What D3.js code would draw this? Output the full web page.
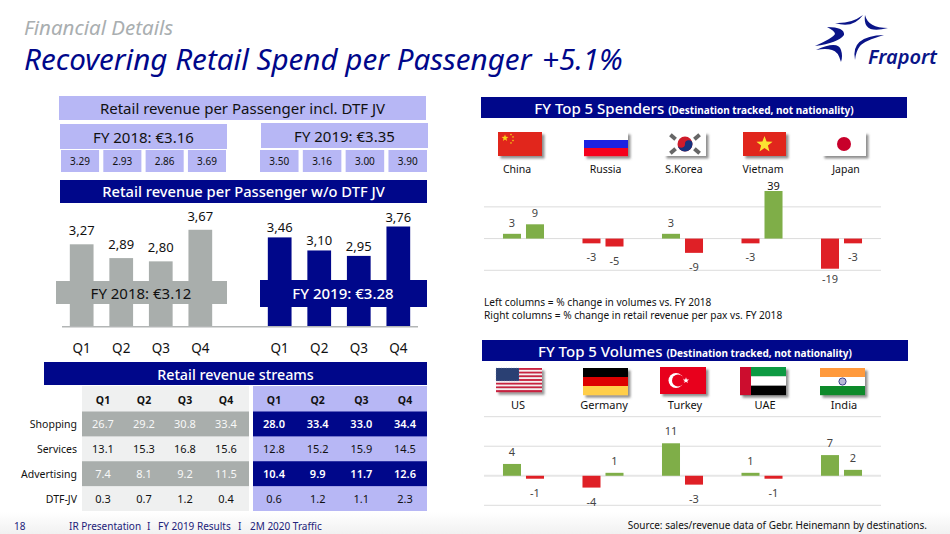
<!DOCTYPE html>
<html>
<head>
<meta charset="utf-8">
<script src="https://cdn.jsdelivr.net/npm/d3@7"></script>
<style>
  html, body { margin: 0; padding: 0; background: #fff; }
  svg { display: block; }
  text { font-family: "Noto Sans", "Open Sans", sans-serif; }
</style>
</head>
<body>
<svg id="chart"></svg>
<script>
const W = 950, H = 534;

const navy = "#00078a", lilac = "#b7b7f5", gray = "#a9aeac", pale = "#eff0f0";
const green = "#7fae48", red = "#df2026", gridCol = "#dcdcdc";

// per passenger
const quarters = ["Q1", "Q2", "Q3", "Q4"];
const incl2018 = ["3.29", "2.93", "2.86", "3.69"];
const incl2019 = ["3.50", "3.16", "3.00", "3.90"];
const wo2018 = [3.27, 2.89, 2.80, 3.67];
const wo2019 = [3.46, 3.10, 2.95, 3.76];

// revenue streams
const streams = ["Shopping", "Services", "Advertising", "DTF-JV"];
const streams2018 = [
  ["26.7", "29.2", "30.8", "33.4"],
  ["13.1", "15.3", "16.8", "15.6"],
  ["7.4", "8.1", "9.2", "11.5"],
  ["0.3", "0.7", "1.2", "0.4"]
];
const streams2019 = [
  ["28.0", "33.4", "33.0", "34.4"],
  ["12.8", "15.2", "15.9", "14.5"],
  ["10.4", "9.9", "11.7", "12.6"],
  ["0.6", "1.2", "1.1", "2.3"]
];

// top 5 charts: left column = volumes, right column = revenue per pax
const spenders = ["China", "Russia", "S.Korea", "Vietnam", "Japan"];
const spendersLeft = [3, -3, 3, -3, -19];
const spendersRight = [9, -5, -9, 39, -3];
const volumes = ["US", "Germany", "Turkey", "UAE", "India"];
const volumesLeft = [4, -4, 11, 1, 7];
const volumesRight = [-1, 1, -3, -1, 2];

const svg = d3.select("#chart").attr("width", W).attr("height", H);

const defs = svg.append("defs");
defs.append("filter").attr("id", "flagShadow")
    .attr("x", "-10%").attr("y", "-10%").attr("width", "125%").attr("height", "130%")
  .append("feDropShadow")
    .attr("dx", 2.5).attr("dy", 2.5).attr("stdDeviation", 1.3)
    .attr("flood-color", "#555").attr("flood-opacity", 0.65);
const footGrad = defs.append("linearGradient").attr("id", "footGrad")
    .attr("x1", 0).attr("y1", 0).attr("x2", 0).attr("y2", 1);
footGrad.append("stop").attr("offset", 0).attr("stop-color", "#fff");
footGrad.append("stop").attr("offset", 1).attr("stop-color", "#f1f1f1");

svg.append("rect").attr("x", 0).attr("y", 512).attr("width", W).attr("height", 22)
    .attr("fill", "url(#footGrad)");

function box(x0, y0, x1, y1, fill) {
  return svg.append("rect").attr("x", x0).attr("y", y0)
      .attr("width", x1 - x0).attr("height", y1 - y0).attr("fill", fill);
}

function label(x, y, str, size, fill, opts) {
  const o = opts || {};
  return svg.append("text").attr("x", x).attr("y", y)
      .attr("text-anchor", o.anchor || "middle")
      .attr("font-size", size)
      .attr("font-weight", o.weight || 400)
      .attr("font-style", o.style || "normal")
      .attr("fill", fill)
      .text(str);
}

// title
label(24, 35, "Financial Details", 20.5, "#a9aeb0", { anchor: "start", style: "italic" });
label(24, 70, "Recovering Retail Spend per Passenger", 29.6, navy, { anchor: "start", style: "italic" });
label(542, 70, "+5.1%", 29.6, navy, { anchor: "start", style: "italic" });

// logo
const swooshes = [
  "M835,23 Q851,24 863,15 Q853,29 835,23Z",
  "M865,15 Q868,28 888,28 Q862,35 865,15Z",
  "M827,27 Q845,27 844,35 Q838,43 815,46 Q833,38 835,34 Q835,31 827,27Z",
  "M816,50 Q838,40 841,50 Q843,56 841,62 Q838,51 832,50 Q826,48 816,50Z",
  "M855,60 Q850,36 884,35 Q864,41 860,46 Q856,51 855,60Z"
];
svg.append("g").selectAll("path").data(swooshes).enter().append("path")
    .attr("d", d => d).attr("fill", "#0a1488");
label(868, 64, "Fraport", 20, "#0a1488", { anchor: "start", style: "italic", weight: 600 });

// incl. DTF JV block
box(59, 96, 426, 120, lilac);
label(242.5, 114, "Retail revenue per Passenger incl. DTF JV", 15, "#111");
box(60, 124, 227, 149, lilac);
box(261, 123, 428, 148, lilac);
label(143.5, 143, "FY 2018: €3.16", 15, "#111");
label(344.5, 142, "FY 2019: €3.35", 15, "#111");

const inclX18 = d3.scaleBand().domain(quarters).range([61, 226]).paddingInner(0.1);
const inclX19 = d3.scaleBand().domain(quarters).range([260, 427]).paddingInner(0.1);
[[incl2018, inclX18], [incl2019, inclX19]].forEach(([vals, x]) => {
  svg.append("g").selectAll("rect").data(vals).enter().append("rect")
      .attr("x", (d, i) => x(quarters[i])).attr("y", 150)
      .attr("width", x.bandwidth()).attr("height", 22).attr("fill", lilac);
  svg.append("g").selectAll("text").data(vals).enter().append("text")
      .attr("x", (d, i) => x(quarters[i]) + x.bandwidth() / 2).attr("y", 165)
      .attr("text-anchor", "middle").attr("font-size", 10).attr("fill", "#111")
      .text(d => d);
});

// w/o DTF JV bars
box(60, 180, 427, 203, navy);
label(243.5, 197, "Retail revenue per Passenger w/o DTF JV", 14.7, "#fff", { weight: 500 });

const yRev = d3.scaleLinear().domain([1, 4]).range([326.7, 217.8]);
const xRev18 = d3.scaleBand().domain(quarters).range([54, 228]).padding(0.4);
const xRev19 = d3.scaleBand().domain(quarters).range([252, 426]).padding(0.4);
const fmtComma = d => d.toFixed(2).replace(".", ",");

[[wo2018, xRev18, gray, 9], [wo2019, xRev19, navy, 5]].forEach(([vals, x, col, gap]) => {
  svg.append("g").selectAll("rect").data(vals).enter().append("rect")
      .attr("x", (d, i) => x(quarters[i])).attr("y", d => yRev(d))
      .attr("width", x.bandwidth()).attr("height", d => yRev(1) - yRev(d))
      .attr("fill", col);
  svg.append("g").selectAll("text").data(vals).enter().append("text")
      .attr("x", (d, i) => x(quarters[i]) + x.bandwidth() / 2)
      .attr("y", d => yRev(d) - gap)
      .attr("text-anchor", "middle").attr("font-size", 13).attr("fill", "#111")
      .text(fmtComma);
  const axis = d3.axisBottom(x).tickSize(0).tickPadding(0);
  const g = svg.append("g").attr("transform", "translate(0,342)").call(axis);
  g.select(".domain").remove();
  g.selectAll("text").attr("font-size", 13.5).attr("fill", "#111")
      .attr("font-family", null).attr("dy", "0.8em");
});

box(56, 281, 227, 304, gray);
box(260, 280, 427, 307, navy);
label(141, 299, "FY 2018: €3.12", 15, "#111");
label(343, 299, "FY 2019: €3.28", 15, "#fff", { weight: 500 });
svg.append("line").attr("x1", 62).attr("x2", 418)
    .attr("y1", yRev(1)).attr("y2", yRev(1))
    .attr("stroke", "#b3b6b6").attr("stroke-width", 1.4);

// streams table
box(44, 362, 427, 385, navy);
label(235.5, 380, "Retail revenue streams", 14.3, "#fff", { weight: 500 });

box(82, 386, 249, 511, pale);
box(253, 386, 427, 511, lilac);

const rowY = d3.scaleBand().domain(streams).range([411.5, 511]);
const colX18 = d3.scalePoint().domain(quarters).range([103, 226]);
const colX19 = d3.scalePoint().domain(quarters).range([274, 405]);

[[streams2018, colX18, 82, 249, gray, "#f8f8f8", 0], [streams2019, colX19, 253, 427, navy, "#fff", 1]].forEach(([rows, x, x0, x1, dark, lightText, bold]) => {
  streams.forEach((s, r) => {
    const isDark = r % 2 === 0;
    if (isDark) box(x0, rowY(s), x1, rowY(s) + rowY.bandwidth(), dark);
    svg.append("g").selectAll("text").data(rows[r]).enter().append("text")
        .attr("x", (d, i) => x(quarters[i]))
        .attr("y", rowY(s) + rowY.bandwidth() / 2 + 4)
        .attr("text-anchor", "middle").attr("font-size", 11)
        .attr("font-weight", isDark && bold ? 600 : 400)
        .attr("fill", isDark ? lightText : "#111")
        .text(d => d);
  });
  svg.append("g").selectAll("text").data(quarters).enter().append("text")
      .attr("x", d => x(d)).attr("y", 403.5)
      .attr("text-anchor", "middle").attr("font-size", 10.5).attr("font-weight", 700)
      .attr("fill", "#111").text(d => d);
});

svg.append("g").selectAll("text").data(streams).enter().append("text")
    .attr("x", 77).attr("y", d => rowY(d) + rowY.bandwidth() / 2 + 4)
    .attr("text-anchor", "end").attr("font-size", 10.5).attr("fill", "#111")
    .text(d => d);

// flags
function stripes(g, x, y, w, h, cols) {
  const band = h / cols.length;
  cols.forEach((c, i) => g.append("rect").attr("x", x).attr("y", y + i * band)
      .attr("width", w).attr("height", band + 0.2).attr("fill", c));
}
function star(g, cx, cy, r, fill) {
  const pts = d3.range(10).map(i => {
    const a = -Math.PI / 2 + i * Math.PI / 5, rr = i % 2 ? r * 0.42 : r;
    return [cx + rr * Math.cos(a), cy + rr * Math.sin(a)].join(",");
  }).join(" ");
  g.append("polygon").attr("points", pts).attr("fill", fill);
}
function flagGroup() {
  return svg.append("g").attr("filter", "url(#flagShadow)");
}

const flagDraw = {
  China(x, y, w, h) {
    const g = flagGroup();
    g.append("rect").attr("x", x).attr("y", y).attr("width", w).attr("height", h).attr("fill", "#e1251b");
    star(g, x + 7, y + 6, 3.6, "#f7d417");
    [[13, 2.5], [15, 5], [15, 8.5], [13, 11]].forEach(p => star(g, x + p[0], y + p[1], 1.2, "#f7d417"));
  },
  Russia(x, y, w, h) {
    stripes(flagGroup(), x, y, w, h, ["#fff", "#1a24e0", "#f5001c"]);
  },
  "S.Korea"(x, y, w, h) {
    const g = flagGroup();
    g.append("rect").attr("x", x).attr("y", y).attr("width", w).attr("height", h).attr("fill", "#fff");
    const cx = x + w / 2, cy = y + h / 2;
    g.append("circle").attr("cx", cx).attr("cy", cy).attr("r", 7.5).attr("fill", "#cf1b2b");
    g.append("path").attr("d", `M${cx - 7.5},${cy} A3.75,3.75 0 0 0 ${cx},${cy} A3.75,3.75 0 0 1 ${cx + 7.5},${cy} A7.5,7.5 0 0 1 ${cx - 7.5},${cy}Z`).attr("fill", "#12307d");
    [[-12, -7, 40], [12, -7, -40], [-12, 7, -40], [12, 7, 40]].forEach(p => {
      g.append("rect").attr("x", -3.4).attr("y", -2).attr("width", 6.8).attr("height", 4)
          .attr("fill", "#666")
          .attr("transform", `translate(${cx + p[0]},${cy + p[1]}) rotate(${p[2]})`);
    });
  },
  Vietnam(x, y, w, h) {
    const g = flagGroup();
    g.append("rect").attr("x", x).attr("y", y).attr("width", w).attr("height", h).attr("fill", "#e1251b");
    star(g, x + w / 2, y + h / 2 + 0.5, 8.5, "#fbe433");
  },
  Japan(x, y, w, h) {
    const g = flagGroup();
    g.append("rect").attr("x", x).attr("y", y).attr("width", w).attr("height", h).attr("fill", "#fff");
    g.append("circle").attr("cx", x + w / 2).attr("cy", y + h / 2).attr("r", 7).attr("fill", "#c8002c");
  },
  US(x, y, w, h) {
    const g = flagGroup();
    stripes(g, x, y, w, h, d3.range(13).map(i => i % 2 ? "#f7eef0" : "#c8213f"));
    g.append("rect").attr("x", x).attr("y", y).attr("width", w * 0.5).attr("height", h * 7 / 13).attr("fill", "#2a3f73");
    g.append("rect").attr("x", x).attr("y", y).attr("width", w * 0.5).attr("height", h * 7 / 13)
        .attr("fill", "none").attr("stroke", "#8a9ac0").attr("stroke-width", 0.4).attr("stroke-dasharray", "1 1.5");
  },
  Germany(x, y, w, h) {
    stripes(flagGroup(), x, y, w, h, ["#000", "#dd0000", "#ffce4a"]);
  },
  Turkey(x, y, w, h) {
    const g = flagGroup();
    g.append("rect").attr("x", x).attr("y", y).attr("width", w).attr("height", h).attr("fill", "#e8001f");
    g.append("circle").attr("cx", x + 16).attr("cy", y + h / 2).attr("r", 7.5).attr("fill", "#fff");
    g.append("circle").attr("cx", x + 18).attr("cy", y + h / 2).attr("r", 6).attr("fill", "#e8001f");
    star(g, x + 26, y + h / 2, 3.2, "#fff");
  },
  UAE(x, y, w, h) {
    const g = flagGroup();
    stripes(g, x, y, w, h, ["#0f9a42", "#fff", "#000"]);
    g.append("rect").attr("x", x).attr("y", y).attr("width", 11).attr("height", h).attr("fill", "#cc0f2f");
  },
  India(x, y, w, h) {
    const g = flagGroup();
    stripes(g, x, y, w, h, ["#ff9a3c", "#fff", "#0b8a2c"]);
    g.append("circle").attr("cx", x + w / 2).attr("cy", y + h / 2).attr("r", 3.6)
        .attr("fill", "#b9b9d8").attr("stroke", "#2a2f80").attr("stroke-width", 0.9);
  }
};

const flagBoxes = {
  China: [498, 132, 44, 24], Russia: [584, 132, 44, 24], "S.Korea": [664, 132, 42, 24],
  Vietnam: [743, 132, 43, 24], Japan: [822, 132, 44, 24],
  US: [496, 368, 46, 24], Germany: [583, 368, 45, 27], Turkey: [660, 367, 46, 27],
  UAE: [740, 367, 46, 28], India: [820, 368, 45, 27]
};
Object.keys(flagBoxes).forEach(k => flagDraw[k](...flagBoxes[k]));

// top 5 charts
function top5(cats, left, right, yScale, grid, opts) {
  const xGroup = d3.scaleBand().domain(cats).range([464.5, 900.5]).padding(0.484);
  const xPair = d3.scaleBand().domain([0, 1]).range([0, xGroup.bandwidth()]).paddingInner(0.217);
  const g = svg.append("g");

  g.selectAll("line.grid").data(grid).enter().append("line")
      .attr("x1", 484).attr("x2", 881)
      .attr("y1", d => yScale(d)).attr("y2", d => yScale(d))
      .attr("stroke", d => d === 0 && opts.thickZero ? "#e6e6e6" : gridCol)
      .attr("stroke-width", d => d === 0 && opts.thickZero ? 2 : 1);

  const rows = cats.flatMap((c, i) => [
    { cat: c, side: 0, v: left[i] },
    { cat: c, side: 1, v: right[i] }
  ]);
  const cx = d => xGroup(d.cat) + xPair(d.side);

  g.selectAll("rect").data(rows).enter().append("rect")
      .attr("x", cx)
      .attr("y", d => Math.min(yScale(d.v), yScale(0)))
      .attr("width", xPair.bandwidth())
      .attr("height", d => Math.abs(yScale(d.v) - yScale(0)))
      .attr("fill", d => d.v >= 0 ? green : red);

  g.selectAll("text").data(rows).enter().append("text")
      .attr("x", d => cx(d) + xPair.bandwidth() / 2)
      .attr("y", d => {
        if (d.v >= 0) return yScale(d.v) - (d.v > 30 ? 1.5 : opts.gapUp);
        return yScale(d.v) + (d.v <= -19 ? 14 : 18);
      })
      .attr("text-anchor", "middle").attr("font-size", 11)
      .attr("fill", d => d.v === 39 ? "#111" : "#444")
      .text(d => d.v);

  // country names
  svg.append("g").selectAll("text").data(cats).enter().append("text")
      .attr("x", d => opts.nameX[cats.indexOf(d)]).attr("y", opts.nameY)
      .attr("text-anchor", "middle").attr("font-size", opts.nameSize).attr("fill", "#111")
      .text(d => d);
}

box(481, 97, 907, 118, navy);
svg.append("text").attr("x", 694).attr("y", 114).attr("text-anchor", "middle")
    .attr("fill", "#fff").attr("font-size", 15).attr("font-weight", 500)
    .text("FY Top 5 Spenders ")
  .append("tspan").attr("font-size", 10).attr("font-weight", 700).text("(Destination tracked, not nationality)");

const ySpend = d3.scaleLinear().domain([-20, 30]).range([270.3, 191]).clamp(true);
top5(spenders, spendersLeft, spendersRight, ySpend, [-20, 0, 20],
  { gapUp: 7, nameY: 173, nameSize: 10.5, nameX: [517, 605.5, 684, 763, 846], thickZero: false });

label(484, 306, "Left columns = % change in volumes vs. FY 2018", 10.15, "#111", { anchor: "start" });
label(484, 318.5, "Right columns = % change in retail revenue per pax vs. FY 2018", 10.15, "#111", { anchor: "start" });

box(482, 340, 908, 361, navy);
svg.append("text").attr("x", 695).attr("y", 357).attr("text-anchor", "middle")
    .attr("fill", "#fff").attr("font-size", 15).attr("font-weight", 500)
    .text("FY Top 5 Volumes ")
  .append("tspan").attr("font-size", 10).attr("font-weight", 700).text("(Destination tracked, not nationality)");

const yVol = d3.scaleLinear().domain([-10, 20]).range([505.3, 416.7]);
top5(volumes, volumesLeft, volumesRight, yVol, [-10, 0, 10, 20],
  { gapUp: 8, nameY: 409, nameSize: 11, nameX: [518, 604, 685, 765, 844], thickZero: true });

// footer
label(14, 530, "18", 10, "#22227a", { anchor: "start" });
label(69, 530, "IR Presentation", 10, "#22227a", { anchor: "start" });
label(147, 530, "I", 10, "#22227a", { anchor: "start" });
label(158, 530, "FY 2019 Results", 10, "#22227a", { anchor: "start" });
label(238, 530, "I", 10, "#22227a", { anchor: "start" });
label(250, 530, "2M 2020 Traffic", 10, "#22227a", { anchor: "start" });
label(927, 529, "Source: sales/revenue data of Gebr. Heinemann by destinations.", 10, "#111", { anchor: "end" });
</script>
</body>
</html>
